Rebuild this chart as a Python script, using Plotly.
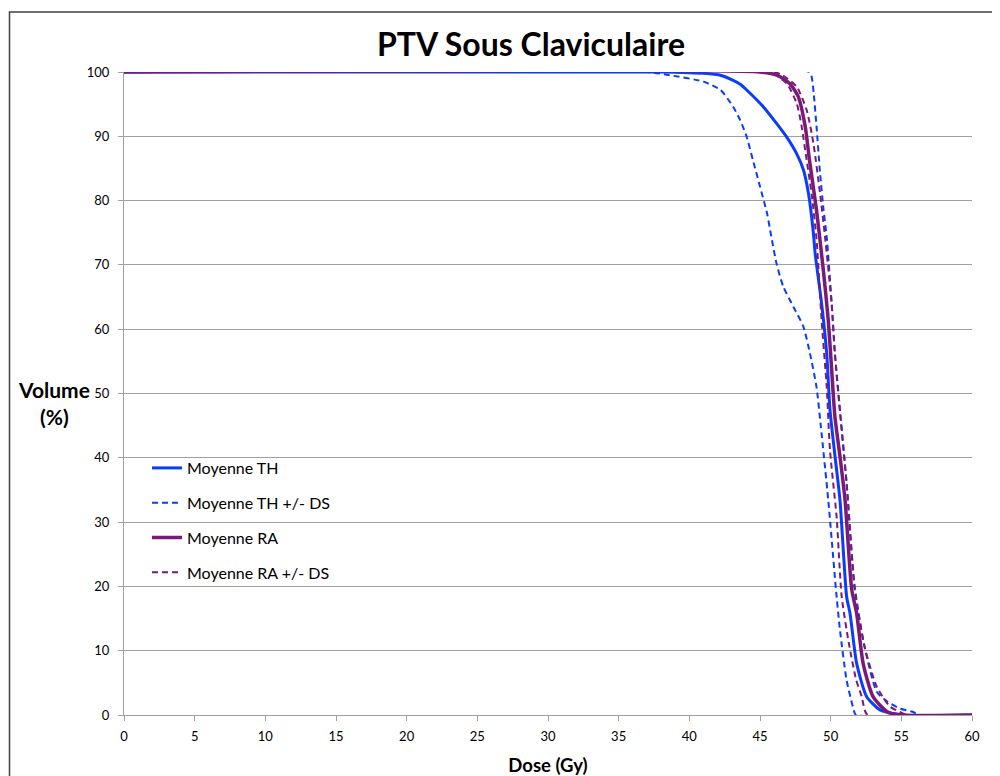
import plotly.graph_objects as go

# ---- data (Dose in Gy, Volume in %) ----
th_mean_x = [0, 38, 40, 41, 42.2, 43.1, 43.6, 44.06, 45.23, 46.17, 46.88, 47.59, 48.07, 48.43, 48.78, 48.9, 49.36, 49.72, 49.95, 50.31, 50.66, 51.13, 51.37, 51.84, 52.55, 53.49, 55, 60]
th_mean_y = [100, 100, 99.9, 99.8, 99.5, 98.7, 98.1, 97.2, 94.6, 92.0, 89.9, 87.3, 84.8, 81.1, 74.9, 71.8, 64.0, 56.2, 47.5, 40.2, 33.4, 18.4, 15.8, 8.0, 2.85, 0.8, 0, 0]

th_low_x = [0, 37, 38.6, 41, 42.2, 43.1, 43.6, 44.06, 44.5, 45.0, 45.5, 45.8, 46.17, 46.65, 47.36, 48.07, 48.54, 49.0, 49.3, 49.83, 50.42, 50.66, 51.13, 51.7, 51.8, 60]
th_low_y = [100, 100, 99.5, 98.5, 97.2, 94.6, 92.5, 89.9, 86.3, 82.2, 78, 74.4, 70.2, 66.6, 63.5, 60.4, 56.2, 51, 45, 33.4, 18.4, 13.2, 5.4, 0.3, 0, 0]

th_up_x = [0, 48.5, 48.65, 48.8, 49.0, 49.25, 49.5, 49.72, 50.07, 50.3, 50.66, 51.13, 51.7, 52.4, 53.26, 54.0, 54.9, 55.8, 56.3, 60]
th_up_y = [100, 100, 99.3, 96.7, 91.5, 84.3, 78.5, 74.4, 64, 56.2, 47, 36, 20, 10.6, 3.6, 2.1, 1.0, 0.5, 0, 0]

ra_mean_x = [0, 45, 46.2, 47.1, 47.7, 48.2, 48.5, 49.0, 49.48, 49.83, 50.07, 50.3, 50.66, 51.02, 51.49, 51.84, 52.3, 53.0, 54.0, 55, 60]
ra_mean_y = [100, 100, 99.5, 98.2, 96.2, 91.5, 86.3, 78.5, 69.2, 61.4, 53.7, 46.4, 40.2, 33.4, 19.5, 15.8, 8, 2.85, 0.5, 0, 0]

ra_low_x = [0, 45.5, 46, 46.9, 47.6, 47.95, 48.3, 48.65, 49.0, 49.36, 49.72, 49.95, 50.42, 50.78, 51.3, 51.8, 52.2, 52.6, 60]
ra_low_y = [100, 100, 99.7, 98.2, 95.1, 91.5, 86.3, 81.1, 74, 61.4, 51, 41.2, 30.8, 18.4, 11, 5.5, 2.85, 0, 0]

ra_up_x = [0, 46, 46.6, 47.6, 48.3, 48.78, 49.25, 49.6, 50.07, 50.3, 50.66, 51.13, 51.7, 52.4, 53.26, 54.2, 55.1, 55.5, 60]
ra_up_y = [100, 100, 99.5, 97.7, 94.1, 88.9, 81.1, 74.4, 64, 56.2, 47.5, 36, 19.5, 10.6, 4.4, 1.3, 0.26, 0, 0]

x_ticks = list(range(0, 61, 5))
y_ticks = list(range(0, 101, 10))

BLUE = "#0a3cff"
PURPLE = "#7a1a78"
FONT = "Lato"
DASH = "6px,4px"

fig = go.Figure()
fig.add_trace(go.Scatter(x=th_mean_x, y=th_mean_y, mode="lines", name="Moyenne TH",
                         line=dict(color=BLUE, width=3, shape="spline", smoothing=0.6), legendgroup="a"))
fig.add_trace(go.Scatter(x=th_low_x, y=th_low_y, mode="lines", name="Moyenne TH +/- DS",
                         line=dict(color=BLUE, width=2, dash=DASH, shape="spline", smoothing=0.6), legendgroup="b"))
fig.add_trace(go.Scatter(x=th_up_x, y=th_up_y, mode="lines", name="Moyenne TH +/- DS", showlegend=False,
                         line=dict(color=BLUE, width=2, dash=DASH, shape="spline", smoothing=0.6), legendgroup="b"))
fig.add_trace(go.Scatter(x=ra_low_x, y=ra_low_y, mode="lines", name="Moyenne RA +/- DS", showlegend=False,
                         line=dict(color=PURPLE, width=2, dash=DASH, shape="spline", smoothing=0.6), legendgroup="d"))
fig.add_trace(go.Scatter(x=ra_up_x, y=ra_up_y, mode="lines", name="Moyenne RA +/- DS", showlegend=False,
                         line=dict(color=PURPLE, width=2, dash=DASH, shape="spline", smoothing=0.6), legendgroup="d"))
fig.add_trace(go.Scatter(x=ra_mean_x, y=ra_mean_y, mode="lines", name="Moyenne RA",
                         line=dict(color=PURPLE, width=3.5, shape="spline", smoothing=0.6), legendgroup="c"))
# legend-only entry for RA +/- DS (so it appears after Moyenne RA)
fig.add_trace(go.Scatter(x=[None], y=[None], mode="lines", name="Moyenne RA +/- DS",
                         line=dict(color=PURPLE, width=2, dash=DASH), legendgroup="d"))

# page body has an 8px margin; figure sized so it fits the 1000x776 window exactly
OX, OY = 8, 8
W, H = 1000 - OX, 776 - OY
L = 124 - OX
T = 72 - OY
PW, PH = 848, 643

def px(xs):
    return (xs - 124) / PW

def py(ys):
    return (715 - ys) / PH

fig.update_layout(
    width=W, height=H,
    margin=dict(l=L, r=W - L - PW, t=T, b=H - T - PH, autoexpand=False),
    paper_bgcolor="white", plot_bgcolor="white",
    font=dict(family=FONT, color="black"),
    title=dict(text="<b>PTV Sous Claviculaire</b>", x=(531 - OX) / W, xref="container",
               y=1 - (45 - OY) / H, yref="container",
               xanchor="center", yanchor="middle", font=dict(size=32, family=FONT, color="black")),
    showlegend=True,
    legend=dict(x=px(147), y=py(451), xanchor="left", yanchor="top", bgcolor="rgba(0,0,0,0)",
                font=dict(size=16, family=FONT, color="black"), tracegroupgap=11,
                traceorder="grouped"),
    xaxis=dict(range=[0, 60], tickvals=x_ticks, showgrid=False, zeroline=False, automargin=False,
               showline=True, linecolor="#a0a0a0", linewidth=1,
               ticks="outside", ticklen=5, tickcolor="#a0a0a0", ticklabelstandoff=4,
               tickfont=dict(size=13, family=FONT, color="black"),
               title=dict(text="<b>Dose (Gy)</b>", font=dict(size=18.5, family=FONT, color="black"), standoff=17)),
    yaxis=dict(range=[0, 100], tickvals=y_ticks, showgrid=True, gridcolor="#a0a0a0", gridwidth=1,
               zeroline=False, showline=True, linecolor="#a0a0a0", linewidth=1, automargin=False,
               ticks="outside", ticklen=5, tickcolor="#a0a0a0", ticklabelstandoff=6,
               tickfont=dict(size=13, family=FONT, color="black")),
    annotations=[dict(text="<b>Volume<br>(%)</b>", xref="paper", yref="paper",
                      x=px(54), y=py(403), xanchor="center", yanchor="middle",
                      showarrow=False, align="center",
                      font=dict(size=21, family=FONT, color="black"))],
    shapes=[dict(type="rect", xref="paper", yref="paper",
                 x0=px(9.5), x1=px(995), y0=py(800), y1=py(12),
                 line=dict(color="#404040", width=1.5), fillcolor="rgba(0,0,0,0)", layer="below")],
)

fig.write_html("out.html")
